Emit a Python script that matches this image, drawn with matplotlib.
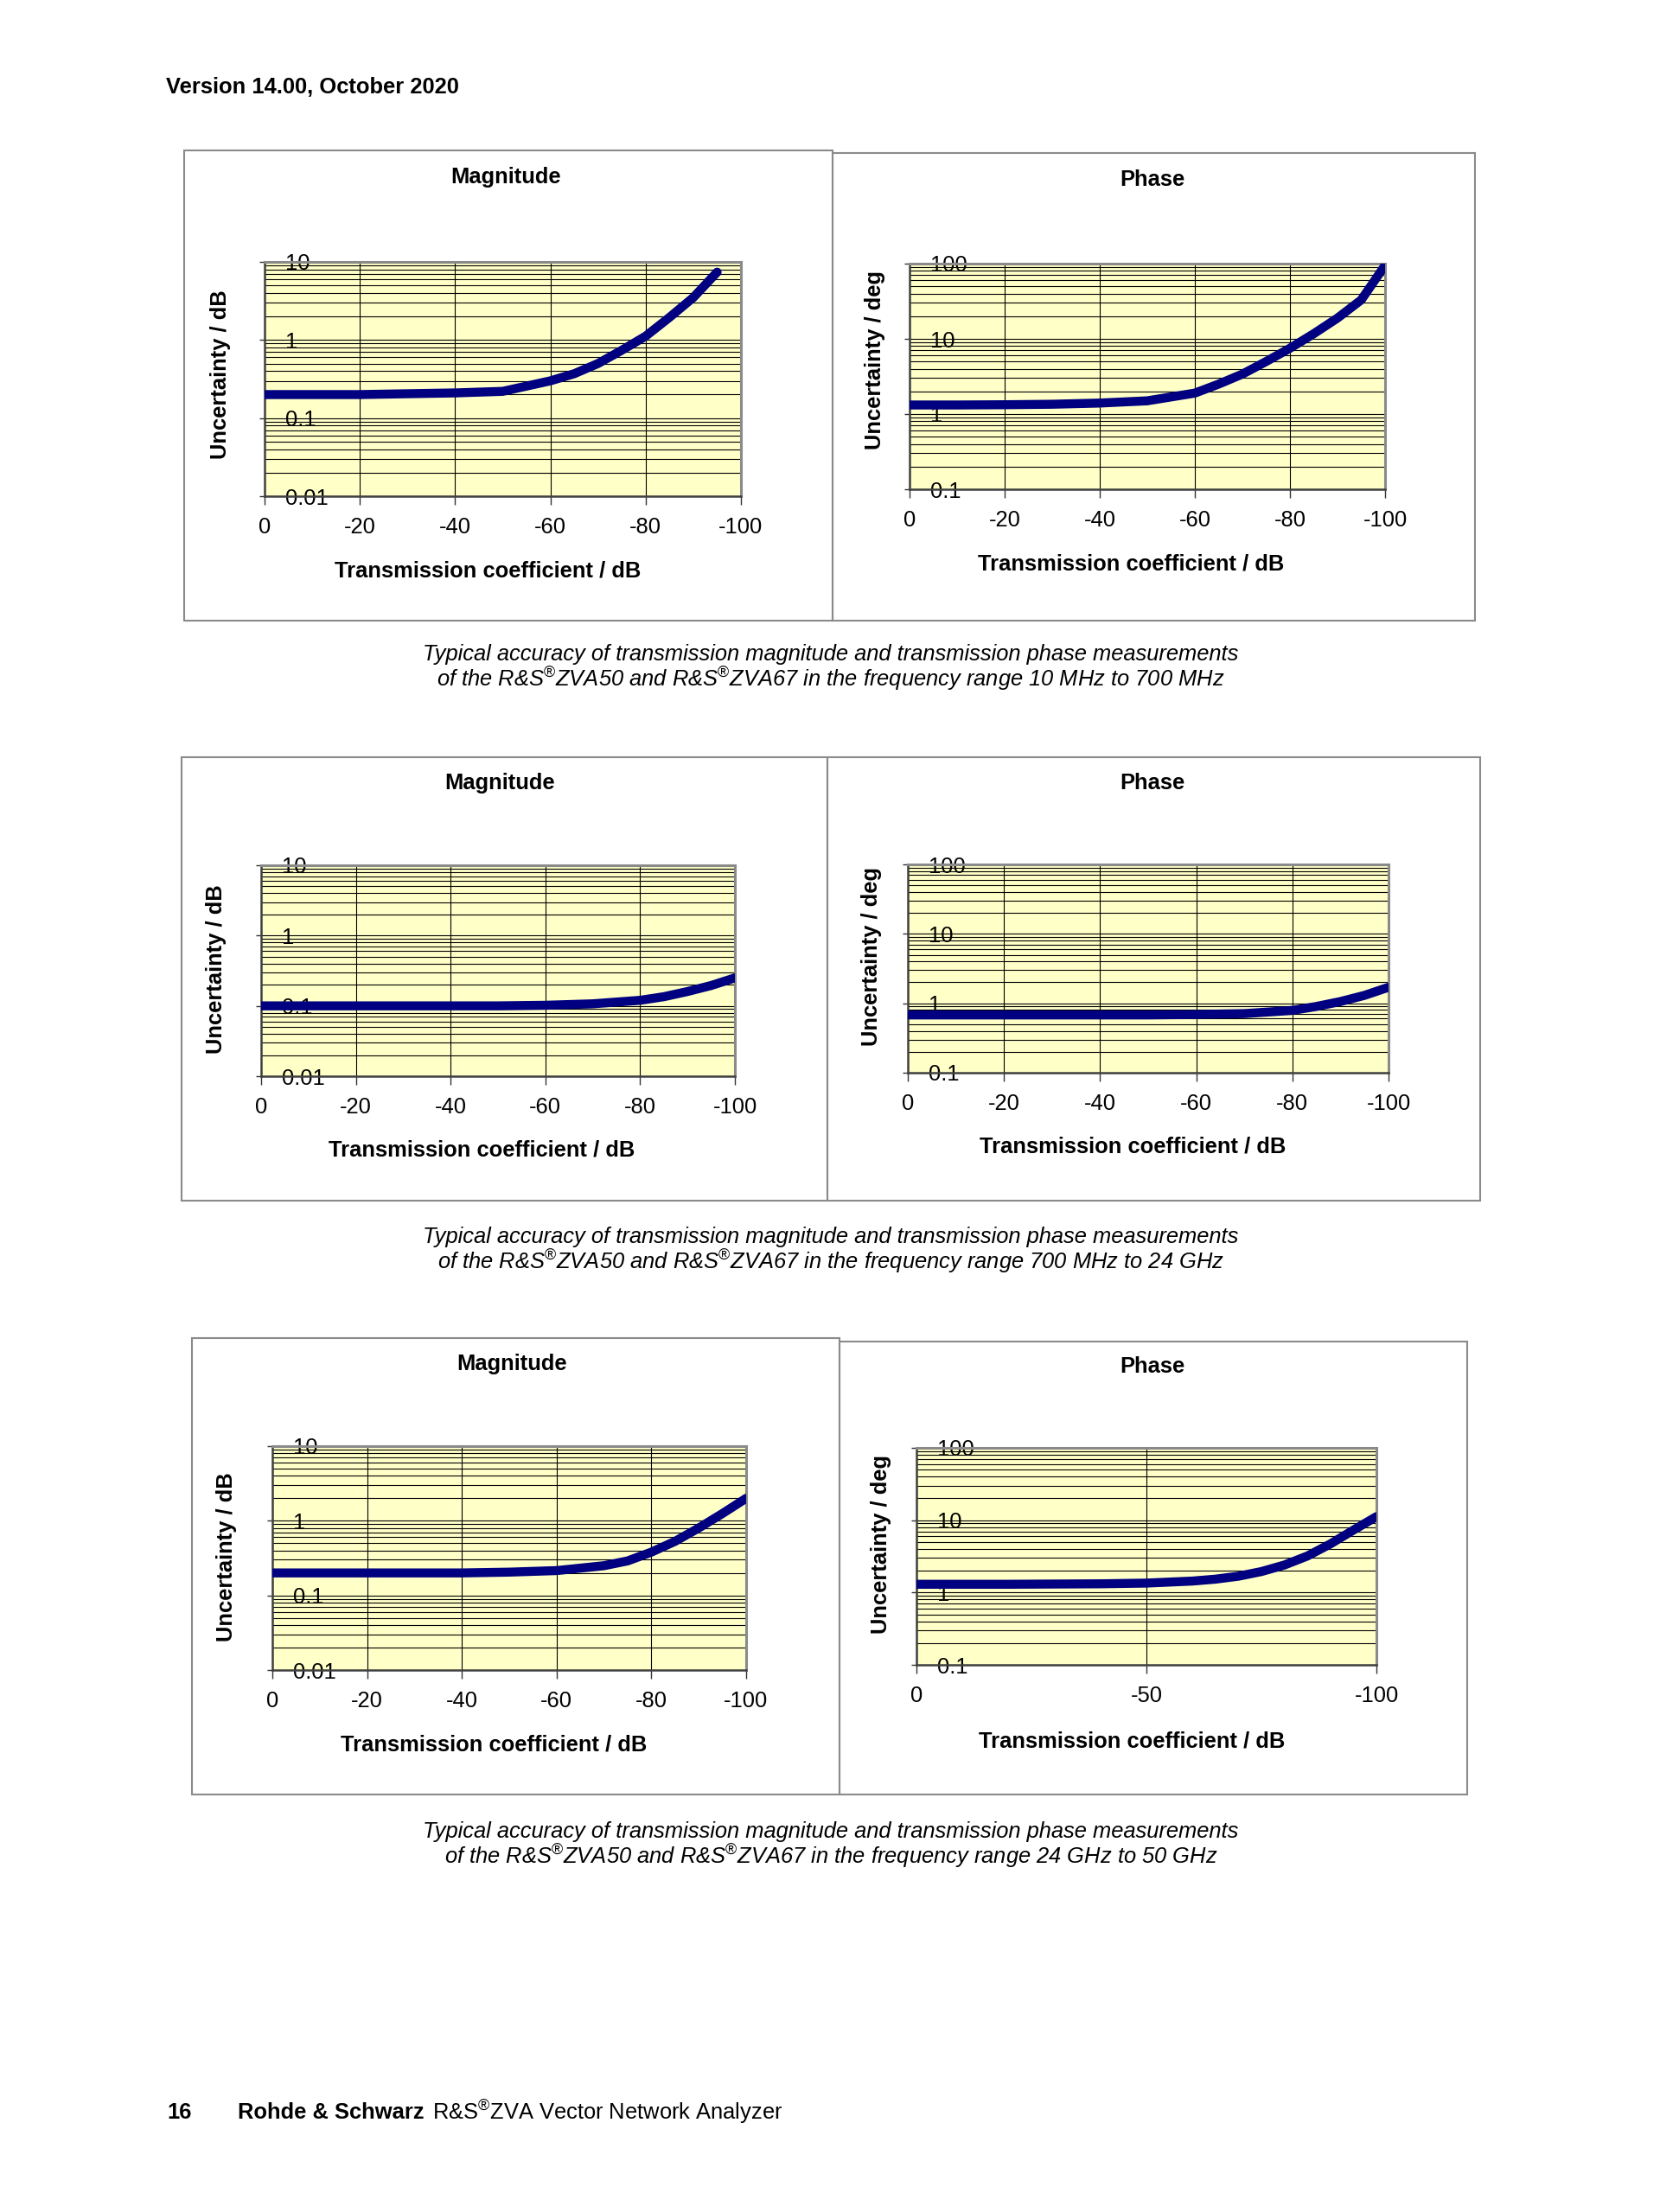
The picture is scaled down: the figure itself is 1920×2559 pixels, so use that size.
import matplotlib
matplotlib.use('Agg')
import matplotlib.pyplot as plt
from matplotlib.patches import Rectangle
from matplotlib.ticker import LogLocator, NullFormatter

plt.rcParams['font.family'] = ['Liberation Sans', 'DejaVu Sans']
plt.rcParams['mathtext.fontset'] = 'custom'
plt.rcParams['mathtext.rm'] = 'Liberation Sans'
plt.rcParams['mathtext.it'] = 'Liberation Sans:italic'

# --- data (x = transmission coefficient in dB) ---
mag1_x = [0, -10, -20, -30, -40, -50, -60, -65, -70, -75, -80, -85, -90, -95]
mag1_y = [0.2, 0.2, 0.2, 0.205, 0.21, 0.22, 0.3, 0.37, 0.5, 0.74, 1.12, 1.95, 3.5, 7.4]
phase1_x = [0, -10, -20, -30, -40, -50, -60, -65, -70, -75, -80, -85, -90, -95, -100]
phase1_y = [1.32, 1.32, 1.33, 1.35, 1.4, 1.5, 1.9, 2.5, 3.4, 5.0, 7.5, 11.7, 18.9, 33, 95]

mag2_x = [0, -10, -20, -30, -40, -50, -60, -70, -80, -85, -90, -95, -100]
mag2_y = [0.1, 0.1, 0.1, 0.1, 0.1, 0.1, 0.102, 0.107, 0.12, 0.135, 0.16, 0.195, 0.25]
phase2_x = [0, -10, -20, -30, -40, -50, -60, -70, -80, -85, -90, -95, -100]
phase2_y = [0.68, 0.68, 0.68, 0.68, 0.68, 0.68, 0.69, 0.71, 0.79, 0.9, 1.06, 1.3, 1.7]

mag3_x = [0, -10, -20, -30, -40, -50, -60, -70, -75, -80, -85, -90, -95, -100]
mag3_y = [0.2, 0.2, 0.2, 0.2, 0.2, 0.205, 0.215, 0.25, 0.29, 0.38, 0.53, 0.8, 1.25, 2.0]
phase3_x = [0, -10, -20, -30, -40, -50, -60, -65, -70, -75, -80, -85, -90, -95, -100]
phase3_y = [1.3, 1.3, 1.3, 1.31, 1.32, 1.35, 1.44, 1.53, 1.68, 1.95, 2.4, 3.2, 4.7, 7.3, 11.2]

mag_yticks = [0.01, 0.1, 1, 10]
mag_ylabels = ['0.01', '0.1', '1', '10']
phase_yticks = [0.1, 1, 10, 100]
phase_ylabels = ['0.1', '1', '10', '100']
xticks_20 = [0, -20, -40, -60, -80, -100]
xticks_50 = [0, -50, -100]

caption_line1 = 'Typical accuracy of transmission magnitude and transmission phase measurements'
ranges = ['10 MHz to 700 MHz', '700 MHz to 24 GHz', '24 GHz to 50 GHz']

W, H = 1920, 2559
FS = 18.4
fig = plt.figure(figsize=(W / 100, H / 100), dpi=100)


def fx(x):
    return x / W


def fy(y):
    return 1 - y / H


# outer frame of each Excel chart
def box(x0, y0, x1, y1):
    fig.add_artist(Rectangle((fx(x0), fy(y1)), (x1 - x0) / W, (y1 - y0) / H,
                             transform=fig.transFigure, fill=False,
                             edgecolor='#8a8a8a', linewidth=1.5))


def panel(rect, xs, ys, yticks, ylabels, xticks, title, title_xy, ylab, ylab_xy, xlab_xy):
    x0, y0, x1, y1 = rect
    ax = fig.add_axes([fx(x0), fy(y1), (x1 - x0) / W, (y1 - y0) / H])
    ax.set_facecolor('#ffffc8')
    ax.set_yscale('log')
    ax.set_ylim(yticks[0], yticks[-1])
    ax.set_xlim(0, -100)

    ax.set_xticks(xticks)
    ax.set_xticklabels([str(v) for v in xticks], fontsize=FS)
    ax.set_yticks(yticks)
    ax.set_yticklabels(ylabels, fontsize=FS, ha='left')
    ax.yaxis.set_minor_locator(LogLocator(base=10, subs=range(2, 10), numticks=20))
    ax.yaxis.set_minor_formatter(NullFormatter())
    ax.tick_params(axis='x', direction='out', length=7, width=1, pad=10, color='#333333')
    ax.tick_params(axis='y', which='major', direction='out', length=4, width=1, pad=-21, color='#333333')
    ax.tick_params(axis='y', which='minor', length=0)

    ax.grid(True, axis='x', which='major', color='black', linewidth=0.8)
    ax.grid(True, axis='y', which='both', color='black', linewidth=0.8)
    ax.set_axisbelow(True)
    for side in ['top', 'right']:
        ax.spines[side].set_color('#8a8a8a')
        ax.spines[side].set_linewidth(2.2)
    for side in ['left', 'bottom']:
        ax.spines[side].set_color('#404040')
        ax.spines[side].set_linewidth(1.8)

    ax.plot(xs, ys, color='#000080', linewidth=7.5, solid_capstyle='round',
            solid_joinstyle='round', clip_on=True, zorder=3)

    fig.text(fx(title_xy[0]), fy(title_xy[1]), title, fontsize=FS, fontweight='bold',
             ha='center', va='center')
    fig.text(fx(ylab_xy[0]), fy(ylab_xy[1]), ylab, fontsize=FS, fontweight='bold',
             rotation=90, ha='center', va='center')
    fig.text(fx(xlab_xy[0]), fy(xlab_xy[1]), 'Transmission coefficient / dB', fontsize=FS,
             fontweight='bold', ha='center', va='center')
    return ax


def caption(y, rng):
    fig.text(fx(961), fy(y), caption_line1, fontsize=FS, style='italic', ha='center', va='center')
    fig.text(fx(961), fy(y + 29),
             'of the R&S$^{®}$ZVA50 and R&S$^{®}$ZVA67 in the frequency range ' + rng,
             fontsize=FS, style='italic', ha='center', va='center')


# header
fig.text(fx(192), fy(101), 'Version 14.00, October 2020', fontsize=FS, fontweight='bold',
         ha='left', va='center')

# row 1: 10 MHz to 700 MHz
box(213, 174, 963, 718)
box(963, 177, 1706, 718)
panel((306, 303, 857, 574), mag1_x, mag1_y, mag_yticks, mag_ylabels, xticks_20,
      'Magnitude', (585, 205), 'Uncertainty / dB', (255, 433), (564, 660))
panel((1052, 305, 1602, 566), phase1_x, phase1_y, phase_yticks, phase_ylabels, xticks_20,
      'Phase', (1333, 208), 'Uncertainty / deg', (1012, 417), (1308, 652))
caption(757, ranges[0])

# row 2: 700 MHz to 24 GHz
box(210, 876, 957, 1389)
box(957, 876, 1712, 1389)
panel((302, 1001, 850, 1245), mag2_x, mag2_y, mag_yticks, mag_ylabels, xticks_20,
      'Magnitude', (578, 906), 'Uncertainty / dB', (250, 1121), (557, 1331))
panel((1050, 1000, 1606, 1241), phase2_x, phase2_y, phase_yticks, phase_ylabels, xticks_20,
      'Phase', (1333, 906), 'Uncertainty / deg', (1008, 1106), (1310, 1326))
caption(1431, ranges[1])

# row 3: 24 GHz to 50 GHz
box(222, 1548, 971, 2076)
box(971, 1552, 1697, 2076)
panel((315, 1673, 863, 1932), mag3_x, mag3_y, mag_yticks, mag_ylabels, xticks_20,
      'Magnitude', (592, 1578), 'Uncertainty / dB', (262, 1801), (571, 2019))
panel((1060, 1675, 1592, 1926), phase3_x, phase3_y, phase_yticks, phase_ylabels, xticks_50,
      'Phase', (1333, 1581), 'Uncertainty / deg', (1019, 1786), (1309, 2014))
caption(2119, ranges[2])

# footer
fig.text(fx(193), fy(2444), '16', fontsize=FS, fontweight='bold', ha='left', va='center')
fig.text(fx(275), fy(2444), 'Rohde & Schwarz', fontsize=FS, fontweight='bold', ha='left', va='center')
fig.text(fx(500), fy(2444), 'R&S$^{®}$ZVA Vector Network Analyzer', fontsize=FS, ha='left', va='center')

fig.savefig('out.png', dpi=100, facecolor='white')
